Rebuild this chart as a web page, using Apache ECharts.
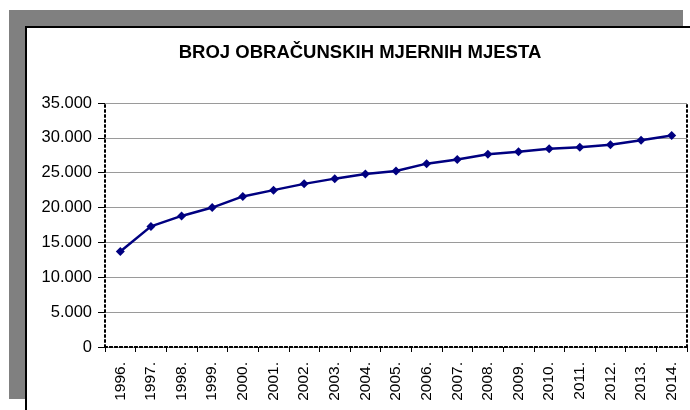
<!DOCTYPE html>
<html>
<head>
<meta charset="utf-8">
<title>Broj obračunskih mjernih mjesta</title>
<script src="https://cdn.jsdelivr.net/npm/echarts@6/dist/echarts.min.js"></script>
<style>
    html, body { margin: 0; padding: 0; background: #fff; }
    #shadow { position: absolute; left: 9px; top: 10px; width: 674px; height: 389px; background: #808080; }
    #frame { position: absolute; left: 25px; top: 26px; width: 670px; height: 390px; background: #fff;
             border-left: 2px solid #000; border-top: 2px solid #000; }
    #chart { position: absolute; left: 0; top: 0; width: 690px; height: 410px; }
</style>
</head>
<body>
<div id="shadow"></div>
<div id="frame"></div>
<div id="chart"></div>
<script>
'use strict';

var years = ['1996.', '1997.', '1998.', '1999.', '2000.', '2001.', '2002.', '2003.', '2004.', '2005.',
    '2006.', '2007.', '2008.', '2009.', '2010.', '2011.', '2012.', '2013.', '2014.'];
var counts = [13700, 17300, 18800, 20000, 21600, 22500, 23400, 24150, 24800, 25250,
    26300, 26900, 27650, 28000, 28450, 28650, 29000, 29650, 30350];
var titleText = 'BROJ OBRAČUNSKIH MJERNIH MJESTA';

function formatThousands(v) {
    return String(v).replace(/\B(?=(\d{3})+(?!\d))/g, '.');
}

var chart = echarts.init(document.getElementById('chart'));

var dotted = {
    color: '#000',
    width: 2,
    type: [2, 3]
};

var option = {
    backgroundColor: 'transparent',
    animation: false,
    title: {
        text: titleText,
        left: 355,
        top: 38,
        textAlign: 'center',
        textStyle: {
            fontFamily: 'Liberation Sans, Arial, sans-serif',
            fontSize: 18.5,
            fontWeight: 'bold',
            color: '#000'
        }
    },
    grid: {
        left: 105,
        top: 103,
        right: 3,
        bottom: 63
    },
    xAxis: [{
        type: 'category',
        data: years,
        boundaryGap: true,
        axisLine: { lineStyle: dotted },
        axisTick: {
            show: true,
            length: 5,
            lineStyle: { color: '#000', width: 1 }
        },
        axisLabel: {
            rotate: 90,
            margin: 15,
            interval: 0,
            color: '#000',
            fontFamily: 'Liberation Sans, Arial, sans-serif',
            fontSize: 15.5
        }
    }, {
        type: 'category',
        position: 'top',
        data: years,
        axisLine: { lineStyle: dotted },
        axisTick: { show: false },
        axisLabel: { show: false }
    }],
    yAxis: [{
        type: 'value',
        min: 0,
        max: 35000,
        interval: 5000,
        axisLine: { show: true, lineStyle: dotted },
        axisTick: {
            show: true,
            length: 7,
            lineStyle: { color: '#000', width: 1 }
        },
        splitLine: {
            lineStyle: { color: '#9a9a9a', width: 1 }
        },
        axisLabel: {
            margin: 13,
            color: '#000',
            fontFamily: 'Liberation Sans, Arial, sans-serif',
            fontSize: 16.5,
            formatter: formatThousands
        }
    }, {
        type: 'value',
        position: 'right',
        min: 0,
        max: 35000,
        interval: 5000,
        axisLine: { show: true, lineStyle: dotted },
        axisTick: { show: false },
        axisLabel: { show: false },
        splitLine: { show: false }
    }],
    series: [{
        name: 'Broj mjernih mjesta',
        type: 'line',
        data: counts,
        symbol: 'diamond',
        symbolSize: 9,
        showSymbol: true,
        lineStyle: { color: '#000080', width: 2.5 },
        itemStyle: { color: '#000080' }
    }]
};

chart.setOption(option);
</script>
</body>
</html>
